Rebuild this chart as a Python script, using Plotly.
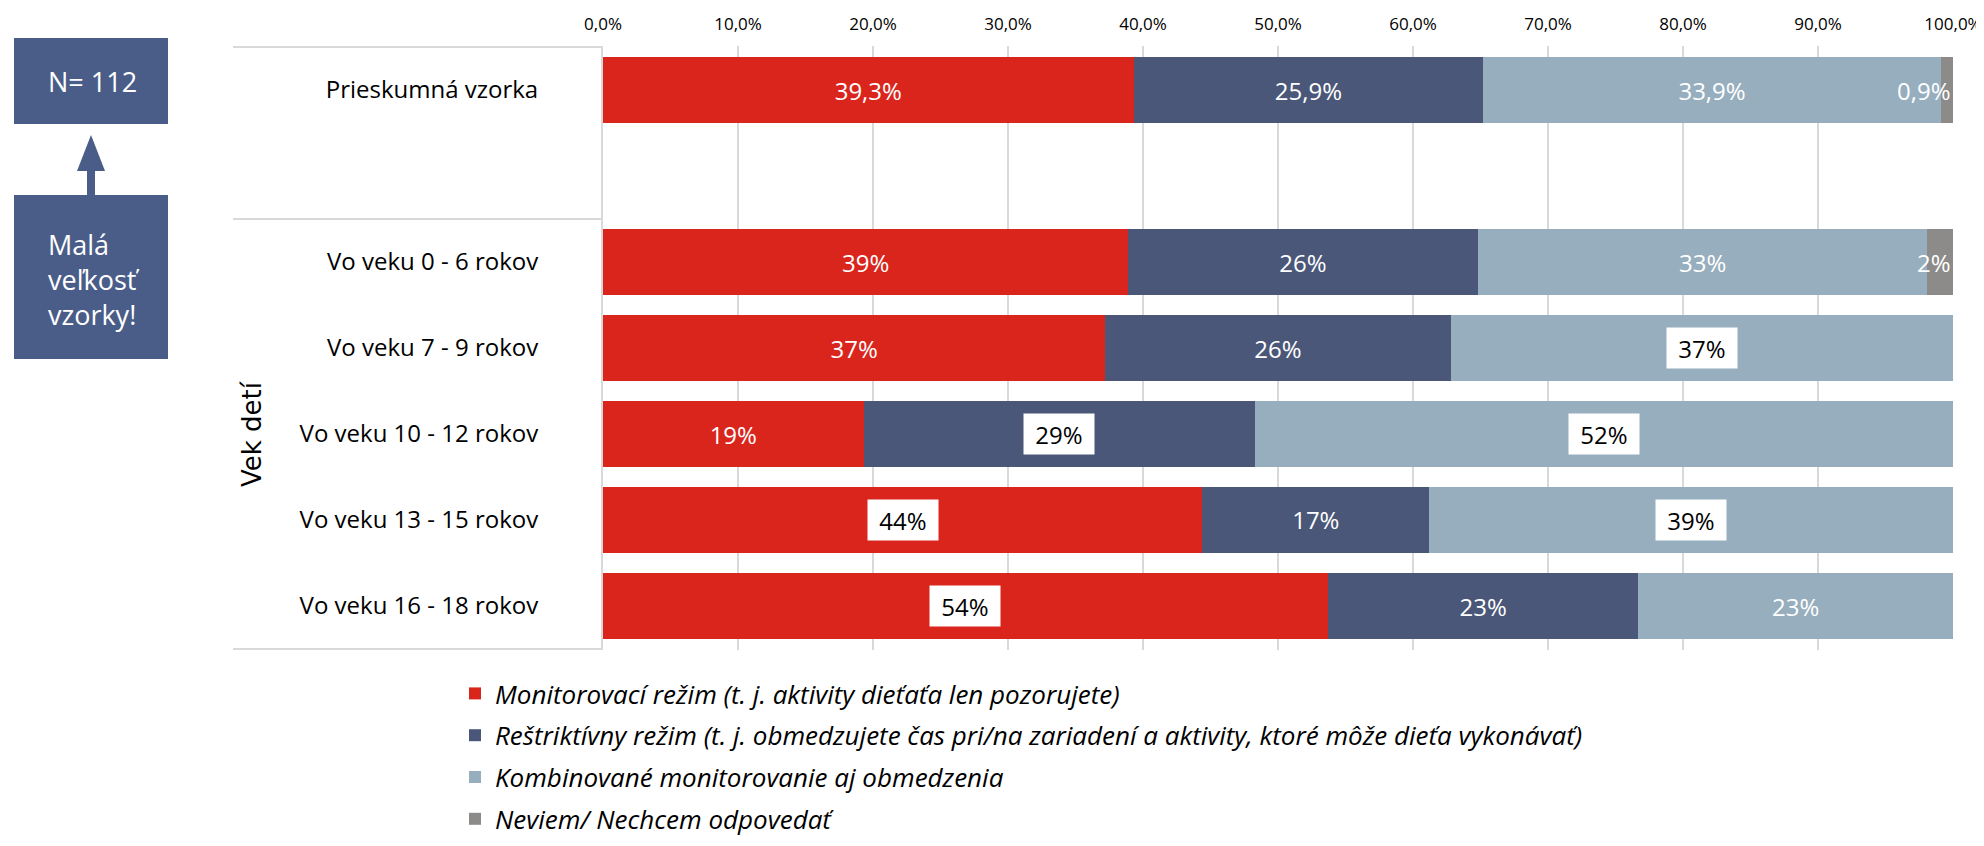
import plotly.graph_objects as go

# ---------------- data ----------------
categories = [
    "Prieskumná vzorka",
    " ",
    "Vo veku 0 - 6 rokov",
    "Vo veku 7 - 9 rokov",
    "Vo veku 10 - 12 rokov",
    "Vo veku 13 - 15 rokov",
    "Vo veku 16 - 18 rokov",
]
series_names = [
    "Monitorovací režim (t. j. aktivity dieťaťa len pozorujete)",
    "Reštriktívny režim (t. j. obmedzujete čas pri/na zariadení a aktivity, ktoré môže dieťa vykonávať)",
    "Kombinované monitorovanie aj obmedzenia",
    "Neviem/ Nechcem odpovedať",
]
monitor = [39.3, None, 38.9, 37.2, 19.3, 44.4, 53.7]
restrict = [25.9, None, 25.9, 25.6, 29.0, 16.8, 23.0]
combined = [33.9, None, 33.3, 37.2, 51.7, 38.8, 23.3]
dontknow = [0.9, None, 1.9, 0, 0, 0, 0]
label_decimals = [1, None, 0, 0, 0, 0, 0]
tick_values = [0, 10, 20, 30, 40, 50, 60, 70, 80, 90, 100]
group_label = "Vek detí"
box_top_text = "N= 112"
box_bottom_text = "Malá<br>veľkosť<br>vzorky!"

# styling
colors = ["#DA251D", "#4A5778", "#97AEBE", "#8C8B89"]
boxed = {(2, 3), (1, 4), (2, 4), (0, 5), (2, 5), (0, 6)}  # (series index, row index)
FONT = "Open Sans, Noto Sans, DejaVu Sans, sans-serif"

OFF = 8  # default page body margin
W, H = 1984 - OFF, 846 - 2 * OFF
# page-pixel targets of the plot area
P_L, P_R, P_T, P_B = 603, 1953, 46, 650
ML, MT = P_L - OFF, P_T - OFF
MR = W - (P_R - OFF)
MB = H - (P_B - OFF)
PW, PH = W - ML - MR, H - MT - MB


def px_x(px):
    return (px - P_L) / PW


def px_y(py):
    return (P_B - py) / PH


def fmt(v, d):
    s = f"{v:.{d}f}".replace(".", ",")
    return s + "%"


series = [monitor, restrict, combined, dontknow]
fig = go.Figure()
annotations = []

for si, (name, vals, col) in enumerate(zip(series_names, series, colors)):
    texts = []
    for ri, v in enumerate(vals):
        if v is None or v == 0 or si == 3 or (si, ri) in boxed:
            texts.append("")
        else:
            texts.append(fmt(v, label_decimals[ri]))
    fig.add_trace(go.Bar(
        name=name, y=categories, x=vals, orientation="h",
        marker=dict(color=col, line=dict(width=0)),
        text=texts, textposition="inside", insidetextanchor="middle",
        textfont=dict(family=FONT, size=24, color="white"),
        constraintext="none",
        legendgroup=f"g{si}", hoverinfo="skip",
    ))

# boxed labels and edge labels, positioned from the data
for ri, cat in enumerate(categories):
    cum = 0.0
    for si, vals in enumerate(series):
        v = vals[ri]
        if v is None:
            continue
        if (si, ri) in boxed:
            annotations.append(dict(
                x=cum + v / 2, y=cat, xref="x", yref="y",
                text=fmt(v, label_decimals[ri]), showarrow=False,
                font=dict(family=FONT, size=24, color="black"),
                bgcolor="white", width=60, height=30, borderpad=5,
            ))
        if si == 3 and v > 0:
            annotations.append(dict(
                x=cum + v, y=cat, xref="x", yref="y", xanchor="right",
                text=fmt(v, label_decimals[ri]), showarrow=False,
                font=dict(family=FONT, size=24, color="white"),
            ))
        cum += v

# group label
annotations.append(dict(
    x=px_x(235), xref="paper", y=categories[4], yref="y",
    text=group_label, textangle=-90, showarrow=False,
    font=dict(family="DejaVu Sans, sans-serif", size=26, color="black"),
))

# left boxes text
annotations.append(dict(
    x=px_x(46), y=px_y(81), xref="paper", yref="paper", xanchor="left", yanchor="middle",
    text=box_top_text, showarrow=False, align="left",
    font=dict(family=FONT, size=27, color="white"),
))
annotations.append(dict(
    x=px_x(46), y=px_y(279), xref="paper", yref="paper", xanchor="left", yanchor="middle",
    text=box_bottom_text, showarrow=False, align="left",
    font=dict(family=FONT, size=27, color="white"),
))

box_col = "#4A5D88"
shapes = [
    dict(type="rect", xref="paper", yref="paper", x0=px_x(14), x1=px_x(168),
         y0=px_y(38), y1=px_y(124), fillcolor=box_col, line=dict(width=0), layer="above"),
    dict(type="rect", xref="paper", yref="paper", x0=px_x(14), x1=px_x(168),
         y0=px_y(195), y1=px_y(359), fillcolor=box_col, line=dict(width=0), layer="above"),
    dict(type="rect", xref="paper", yref="paper", x0=px_x(87), x1=px_x(95),
         y0=px_y(168), y1=px_y(196), fillcolor=box_col, line=dict(width=0), layer="above"),
    dict(type="path", xref="paper", yref="paper",
         path=f"M {px_x(77)} {px_y(171)} L {px_x(91)} {px_y(135)} L {px_x(105)} {px_y(171)} Z",
         fillcolor=box_col, line=dict(width=0), layer="above"),
]
# category-axis group lines in the label area
for yv in (-0.5, 1.5, 6.5):
    shapes.append(dict(type="line", xref="paper", yref="y", x0=px_x(233), x1=0,
                       y0=yv, y1=yv, line=dict(color="#D9D9D9", width=2), layer="below"))

fig.update_layout(
    width=W, height=H,
    margin=dict(l=ML, r=MR, t=MT, b=MB, autoexpand=False),
    paper_bgcolor="white", plot_bgcolor="white",
    barmode="stack", bargap=0.235,
    separators=",.",
    font=dict(family=FONT, color="black"),
    xaxis=dict(
        side="top", range=[0, 100], tickmode="array", tickvals=tick_values,
        ticktext=[fmt(t, 1) for t in tick_values],
        showgrid=True, gridcolor="#D9D9D9", gridwidth=1.5,
        zeroline=False, showline=False, ticks="",
        tickfont=dict(family=FONT, size=17, color="black"),
        ticklabelstandoff=12, ticklabeloverflow="allow", fixedrange=True,
    ),
    yaxis=dict(
        type="category", categoryorder="array", categoryarray=categories,
        autorange="reversed", showgrid=False, zeroline=False,
        showline=True, linecolor="#D9D9D9", linewidth=2,
        ticks="", ticklabelstandoff=58,
        tickfont=dict(family=FONT, size=24, color="black"),
        fixedrange=True,
    ),
    legend=dict(
        x=px_x(455), y=px_y(670), xanchor="left", yanchor="top",
        font=dict(family=FONT, size=26, color="black", style="italic"),
        tracegroupgap=5, traceorder="grouped", bgcolor="rgba(0,0,0,0)",
    ),
    showlegend=True,
    annotations=annotations,
    shapes=shapes,
)

fig.write_html("out.html")
